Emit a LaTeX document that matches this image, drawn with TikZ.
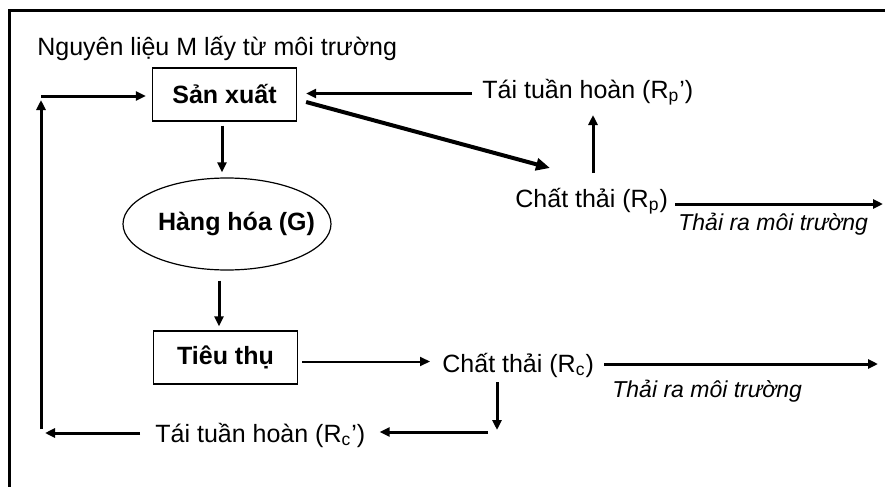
\documentclass[tikz,border=0pt]{standalone}
\usepackage{fontspec}
\setmainfont{Liberation Sans}
\usetikzlibrary{positioning}
\usetikzlibrary{calc}
\usetikzlibrary{arrows.meta}
\usetikzlibrary{shapes.geometric}

\begin{document}
\fontsize{12.5}{15}\selectfont
\begin{tikzpicture}[x=0.5pt, y=-0.5pt,
			box/.style={draw, line width=0.6pt, minimum width=72pt, minimum height=26.5pt, font=\bfseries},
			lbl/.style={inner sep=0pt, anchor=base west},
			envlbl/.style={lbl, font=\fontsize{11.5}{14}\selectfont\itshape},
			arr/.style={line width=1.5pt, -{Triangle[length=5pt,width=4.5pt]}}]
			\useasboundingbox (0,0) rectangle (885,487);
			\draw[line width=1.6pt] (885,10.5) -- (9.5,10.5) -- (9.5,487);
			% main flow
			\node[lbl](src) at (37,55){Nguyên liệu M lấy từ môi trường};
			\node[box](sx) at (224.5,94.5){Sản xuất};
			\node[draw, ellipse, line width=0.6pt, minimum width=104pt, minimum height=46pt,
				label={[font=\bfseries, xshift=4.75pt]center:Hàng hóa (G)}](hh) at (227,224){};
			\node[box](tt) at (225.5,357.5){Tiêu thụ};
			% waste and recycling
			\node[lbl](tthp) at (482,98){Tái tuần hoàn (R\textsubscript{p}')};
			\node[lbl](ctp) at (515,207){Chất thải (R\textsubscript{p})};
			\node[envlbl](envptxt) at (678,230){Thải ra môi trường};
			\node[lbl](ctc) at (442,372){Chất thải (R\textsubscript{c})};
			\node[envlbl](envctxt) at (612,397){Thải ra môi trường};
			\node[lbl](tthc) at (155,442){Tái tuần hoàn (R\textsubscript{c}')};
			\coordinate (cin) at (41,96);
			\coordinate (cbot) at (41,429);
			\coordinate (envp) at (883,204);
			\coordinate (envc) at (878,364);
			\coordinate (cdn) at (497,430);
			% connectors
			\draw[arr, shorten >=3pt] (cin) -- (cin -| sx.west);
			\draw[arr] (cbot) -- ($(cin)+(0,4)$);
			\draw[arr] ($(tthc.base west)+(-15,-9)$) -- ($(cbot)+(4,4)$);
			\draw[arr] ($(sx.south)+(-2.5,4)$) -- ($(hh.north)+(-5,-5)$);
			\draw[arr] ($(hh.south)+(-8,10)$) -- ($(tt.north)+(-6.5,-4)$);
			\draw[arr] ($(tthp.base west)+(-10,-4.5)$) -- ($(sx.east)+(9,-1)$);
			\draw[line width=2pt, -{Triangle[length=7pt,width=6pt]}] ($(sx.east)+(9,7.5)$) -- ($(ctp.base west)+(35,-39)$);
			\draw[arr] ($(ctp.base west)+(78,-34)$) -- ($(tthp.base west)+(111,17)$);
			\draw[arr] ($(ctp.base east)+(7,-3)$) -- (envp);
			\draw[arr, line width=1pt] ($(tt.east)+(4,4)$) -- ($(ctc.base west)+(-12,-10.5)$);
			\draw[arr] ($(ctc.base east)+(10,-8)$) -- (envc);
			\draw[arr] ($(ctc.base west)+(55,10)$) -- (cdn);
			\draw[arr] ($(cdn)+(-9,2)$) -- ($(tthc.base east)+(14,-10)$);
\end{tikzpicture}
\end{document}
